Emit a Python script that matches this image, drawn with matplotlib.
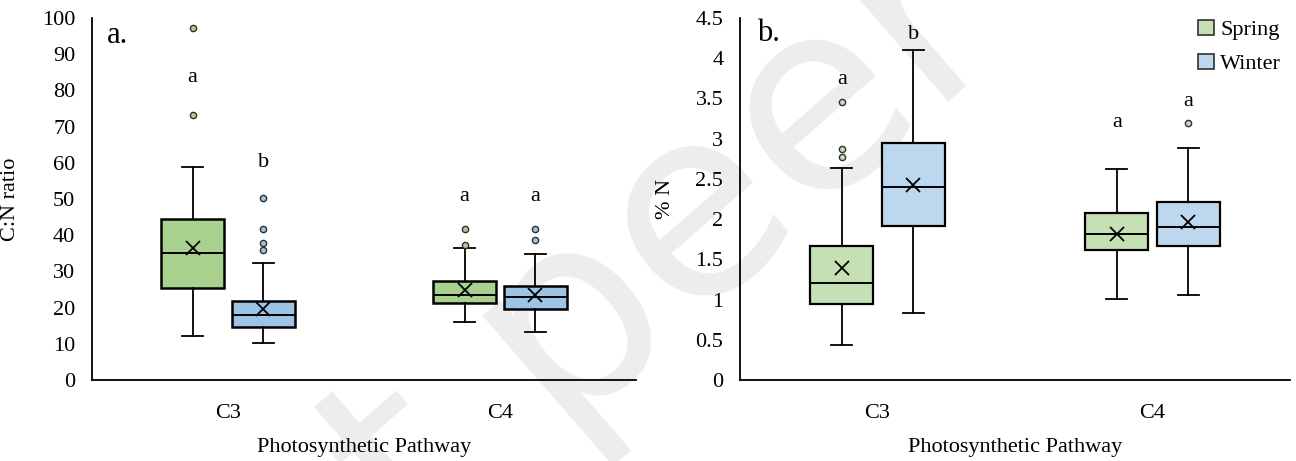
import numpy as np
import matplotlib
matplotlib.use('Agg')
import matplotlib.pyplot as plt
from matplotlib.patches import Patch
from matplotlib.ticker import FormatStrFormatter

# categories and seasons
cats = ['C3', 'C4']
seasons = ['Spring', 'Winter']

# panel a: C:N ratio
cn_spring_whislo = [12.2, 16.1]
cn_spring_q1 = [25.5, 21.4]
cn_spring_med = [35.0, 23.4]
cn_spring_mean = [36.5, 24.9]
cn_spring_q3 = [44.5, 27.3]
cn_spring_whishi = [58.8, 36.4]
cn_spring_fliers = [[97.1, 73.3], [41.6, 37.3]]

cn_winter_whislo = [10.1, 13.3]
cn_winter_q1 = [14.7, 19.5]
cn_winter_med = [18.0, 23.0]
cn_winter_mean = [19.5, 23.5]
cn_winter_q3 = [21.9, 26.0]
cn_winter_whishi = [32.4, 34.8]
cn_winter_fliers = [[50.2, 41.6, 37.8, 35.9], [41.6, 38.8]]

cn_spring_letters = ['a', 'a']
cn_spring_letter_y = [83.6, 50.8]
cn_winter_letters = ['b', 'a']
cn_winter_letter_y = [60.0, 50.8]

# panel b: % N
n_spring_whislo = [0.44, 1.01]
n_spring_q1 = [0.95, 1.61]
n_spring_med = [1.20, 1.82]
n_spring_mean = [1.39, 1.82]
n_spring_q3 = [1.66, 2.08]
n_spring_whishi = [2.63, 2.62]
n_spring_fliers = [[3.46, 2.87, 2.77], []]

n_winter_whislo = [0.83, 1.06]
n_winter_q1 = [1.91, 1.66]
n_winter_med = [2.40, 1.90]
n_winter_mean = [2.43, 1.96]
n_winter_q3 = [2.94, 2.21]
n_winter_whishi = [4.10, 2.89]
n_winter_fliers = [[], [3.19]]

n_spring_letters = ['a', 'a']
n_spring_letter_y = [3.73, 3.20]
n_winter_letters = ['b', 'a']
n_winter_letter_y = [4.29, 3.46]

plt.rcParams['font.family'] = ['Liberation Serif', 'DejaVu Serif']
FS = 16

def make_stats(whislo, q1, med, mean, q3, whishi, fliers):
    out = []
    for i in range(len(whislo)):
        out.append(dict(whislo=whislo[i], q1=q1[i], med=med[i], mean=mean[i],
                        q3=q3[i], whishi=whishi[i], fliers=fliers[i]))
    return out

def draw_boxes(ax, stats, pos, color, lw):
    width = 0.23
    ax.bxp(stats, positions=pos, widths=width, capwidths=0.075,
           showmeans=True, patch_artist=True, manage_ticks=False,
           boxprops=dict(facecolor=color, edgecolor='black', linewidth=lw),
           medianprops=dict(color='black', linewidth=1.4),
           whiskerprops=dict(color='black', linewidth=1.3),
           capprops=dict(color='black', linewidth=1.3),
           meanprops=dict(marker='x', markeredgecolor='black', markersize=10,
                          markeredgewidth=1.3),
           flierprops=dict(marker='o', markerfacecolor=color, markeredgecolor='#303030',
                           markersize=4.5, markeredgewidth=1.0))

fig = plt.figure(figsize=(12.96, 4.61), dpi=100)
# faint preprint watermark behind the plots
fig.text(0.094, -0.570, 'not peer reviewed', rotation=41, fontsize=190,
         family='DejaVu Sans', color='#EDEDED', ha='left', va='center',
         rotation_mode='anchor', zorder=-1)

axa = fig.add_axes([92/1296, 1-380/461, 544/1296, 362/461])
axb = fig.add_axes([740/1296, 1-380/461, 550/1296, 362/461])

x = np.arange(1, len(cats) + 1)
off = 0.13

panels = [
    (axa, make_stats(cn_spring_whislo, cn_spring_q1, cn_spring_med, cn_spring_mean,
                     cn_spring_q3, cn_spring_whishi, cn_spring_fliers),
     make_stats(cn_winter_whislo, cn_winter_q1, cn_winter_med, cn_winter_mean,
                cn_winter_q3, cn_winter_whishi, cn_winter_fliers),
     '#A9D18E', '#9DC3E6', 1.8,
     cn_spring_letters, cn_spring_letter_y, cn_winter_letters, cn_winter_letter_y),
    (axb, make_stats(n_spring_whislo, n_spring_q1, n_spring_med, n_spring_mean,
                     n_spring_q3, n_spring_whishi, n_spring_fliers),
     make_stats(n_winter_whislo, n_winter_q1, n_winter_med, n_winter_mean,
                n_winter_q3, n_winter_whishi, n_winter_fliers),
     '#C5E0B4', '#BDD7EE', 1.6,
     n_spring_letters, n_spring_letter_y, n_winter_letters, n_winter_letter_y),
]

for ax, s_stats, w_stats, c_s, c_w, lw, sl, sly, wl, wly in panels:
    ax.patch.set_alpha(0)
    draw_boxes(ax, s_stats, x - off, c_s, lw)
    draw_boxes(ax, w_stats, x + off, c_w, lw)
    for i in range(len(cats)):
        ax.text(x[i] - off, sly[i], sl[i], ha='center', va='center', fontsize=FS)
        ax.text(x[i] + off, wly[i], wl[i], ha='center', va='center', fontsize=FS)
    ax.set_xlim(0.5, 2.5)
    ax.set_xticks(x)
    ax.set_xticklabels(cats)
    ax.spines['top'].set_visible(False)
    ax.spines['right'].set_visible(False)
    ax.spines['left'].set_linewidth(1.3)
    ax.spines['bottom'].set_linewidth(1.3)
    ax.tick_params(axis='both', length=0, labelsize=FS)
    ax.tick_params(axis='y', pad=12)
    ax.tick_params(axis='x', pad=17)
    ax.set_xlabel('Photosynthetic Pathway', fontsize=FS)
    ax.xaxis.set_label_coords(0.5, -0.16)

axa.set_ylim(0, 100)
axa.set_yticks(np.arange(0, 101, 10))
axa.set_ylabel('C:N ratio', fontsize=FS)
axa.yaxis.set_label_coords(-0.132, 0.5)
axa.text(0.028, 0.953, 'a.', transform=axa.transAxes, fontsize=22, va='center')

axb.set_ylim(0, 4.5)
axb.set_yticks(np.arange(0, 4.51, 0.5))
axb.yaxis.set_major_formatter(FormatStrFormatter('%g'))
axb.set_ylabel('% N', fontsize=FS)
axb.yaxis.set_label_coords(-0.118, 0.5)
axb.text(0.031, 0.956, 'b.', transform=axb.transAxes, fontsize=22, va='center')

handles = [Patch(facecolor='#C5E0B4', edgecolor='#303030', linewidth=1.2, label=seasons[0]),
           Patch(facecolor='#BDD7EE', edgecolor='#303030', linewidth=1.2, label=seasons[1])]
axb.legend(handles=handles, loc='upper right', frameon=False, fontsize=FS,
           handlelength=0.7, handleheight=0.7, handletextpad=0.3,
           labelspacing=0.6, borderaxespad=0.0, bbox_to_anchor=(1.0, 1.02))

fig.savefig('out.png', dpi=100)
